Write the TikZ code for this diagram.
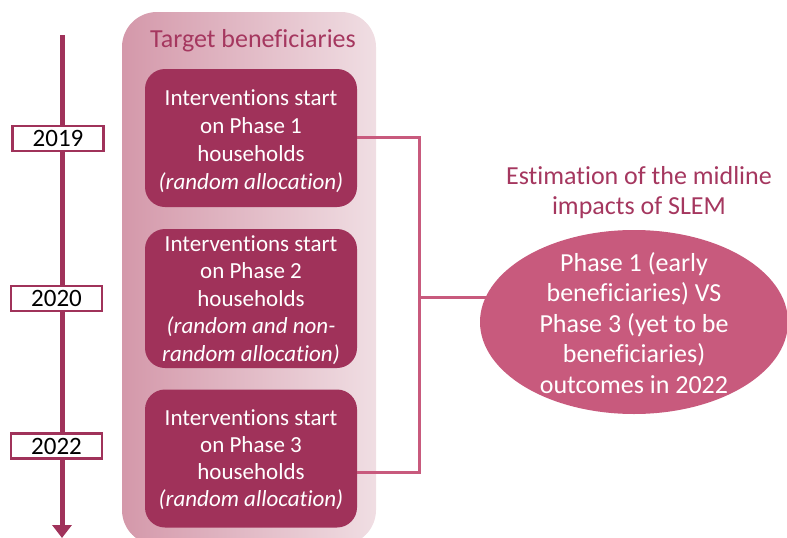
\documentclass[tikz,border=0pt]{standalone}
\usepackage{fontspec}
\setmainfont{Carlito}[Ligatures={NoCommon}]
\usetikzlibrary{arrows.meta}
\definecolor{dark}{RGB}{160,50,90}
\definecolor{mid}{RGB}{200,90,125}
\definecolor{title}{RGB}{165,55,95}
\definecolor{panelL}{RGB}{212,152,170}
\definecolor{panelR}{RGB}{240,222,227}
\tikzset{
  phasebox/.style={fill=dark, rounded corners=20pt, minimum width=212pt, minimum height=138pt, text=white, align=center, font=\fontsize{23}{28}\selectfont, inner sep=0pt},
  yearbox/.style={draw=dark, line width=2.5pt, fill=white, minimum width=91pt, minimum height=25pt, inner sep=0pt, font=\fontsize{25}{26}\selectfont},
  bracket/.style={draw=mid, line width=3pt},
}
\begin{document}
\begin{tikzpicture}[x=1pt,y=-1pt]
\useasboundingbox (0,0) rectangle (787,538);
% panel
\shade[rounded corners=35pt, left color=panelL, right color=panelR] (122,12) rectangle (376,545);
\node[text=title, font=\fontsize{26}{28}\selectfont] (ttl) at (253,41) {Target beneficiaries};
% timeline
\coordinate (ttop) at (62,35);
\coordinate (tbot) at (62,538);
\draw[dark, line width=5pt, -{Triangle[width=19pt,length=13pt]}] (ttop) -- (tbot);
\node[yearbox] (y1) at (58,138.5) {2019};
\node[yearbox] (y2) at (56.5,298.5) {2020};
\node[yearbox] (y3) at (56.5,446) {2022};
% boxes
\node[phasebox] (b1) at (251,138) {};
\node[text=white, align=center, font=\fontsize{23}{28}\selectfont] (t1) at (251,141) {Interventions start\\on Phase 1\\households\\\textit{(random allocation)}};
\node[phasebox, minimum height=139pt] (b2) at (251,298.5) {};
\node[text=white, align=center, font=\fontsize{23}{27.5}\selectfont] (t2) at (251,300) {Interventions start\\on Phase 2\\households\\\textit{(random and non-}\\\textit{random allocation)}};
\node[phasebox] (b3) at (251,458.5) {};
\node[text=white, align=center, font=\fontsize{23}{27}\selectfont] (t3) at (251,460) {Interventions start\\on Phase 3\\households\\\textit{(random allocation)}};
% ellipse
\fill[mid] (634,322) ellipse [x radius=154, y radius=92];
\node[text=white, align=center, font=\fontsize{26}{30.5}\selectfont] (ell) at (634,323) {Phase 1 (early\\beneficiaries) VS\\Phase 3 (yet to be\\beneficiaries)\\outcomes in 2022};
\node[text=title, align=center, font=\fontsize{26}{30}\selectfont] (est) at (639,193) {Estimation of the midline\\impacts of SLEM};
% bracket
\coordinate (j1) at (419,137);
\coordinate (j3) at (419,472);
\coordinate (jm) at (419,297);
\coordinate (ee) at (486,297);
\draw[bracket] (b1.east |- j1) -- (j1) -- (j3) -- (b3.east |- j3);
\draw[bracket] (jm) -- (ee);
\end{tikzpicture}
\end{document}
